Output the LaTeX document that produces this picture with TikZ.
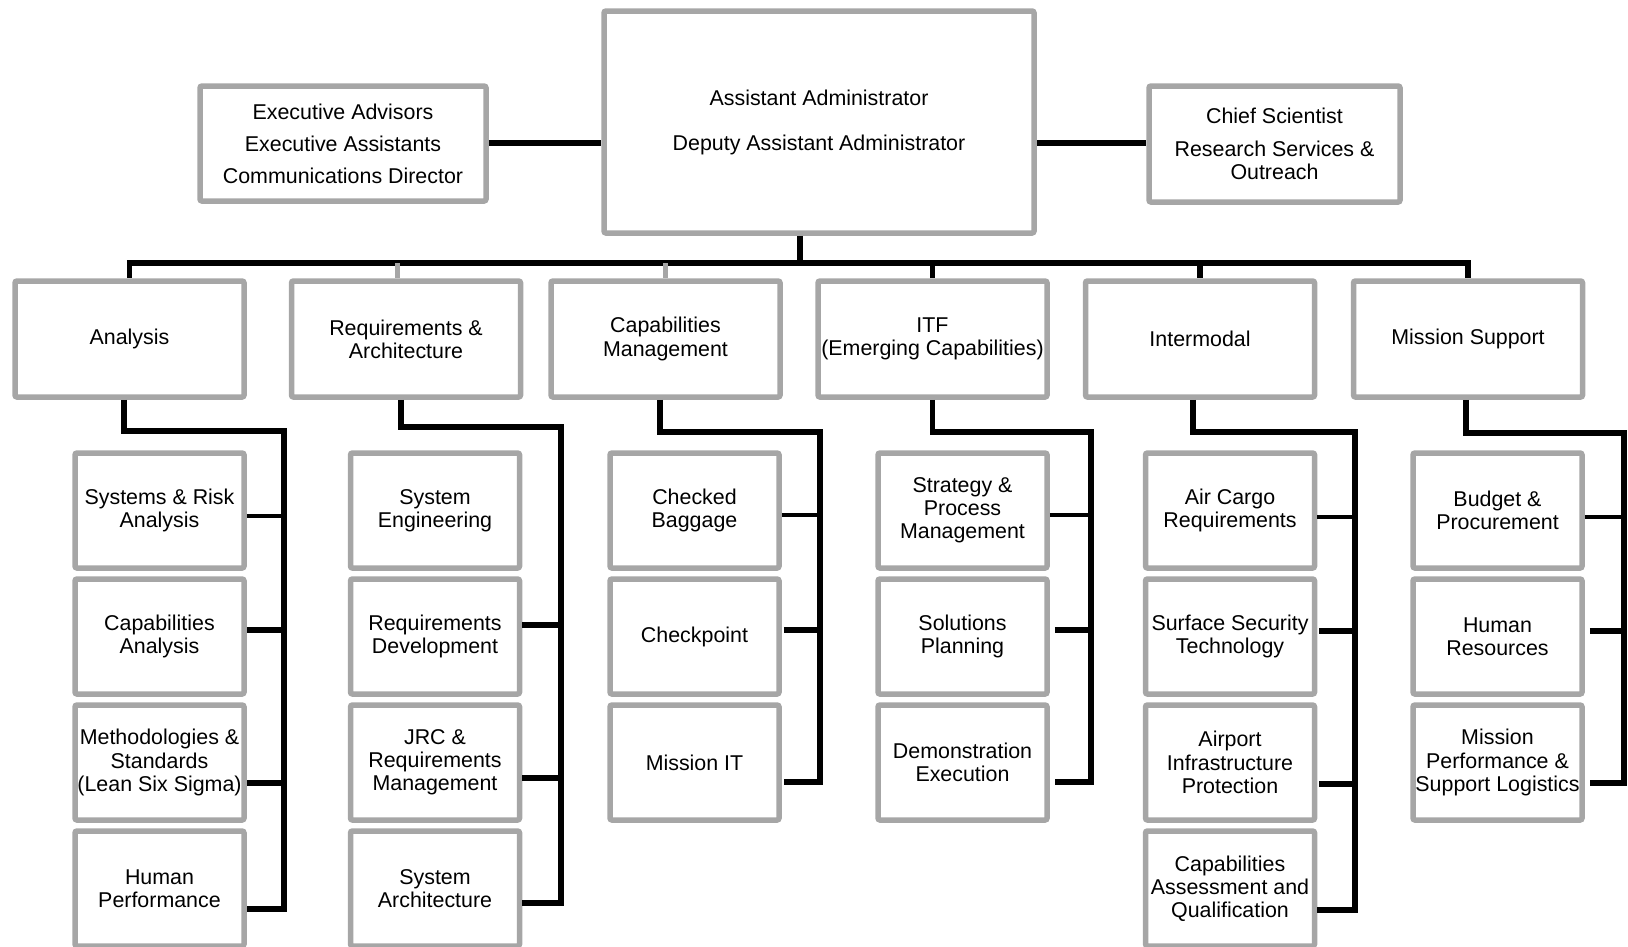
\documentclass[tikz,border=0pt]{standalone}
\usepackage{fontspec}
\setmainfont{Liberation Sans}
\usetikzlibrary{calc}
\definecolor{boxgray}{HTML}{A6A6A6}
\tikzset{
  box/.style={draw=boxgray, line width=5.5pt, rounded corners=2pt, fill=white, inner sep=0pt, align=center},
  subbox/.style={box, minimum width=169pt, minimum height=115pt},
  lvtwo/.style={box, minimum width=229pt, minimum height=116pt},
  link/.style={line width=5.5pt, black, line join=miter},
  thinlink/.style={line width=4pt, black},
  graylink/.style={line width=5pt, boxgray},
}
\begin{document}
\begin{tikzpicture}[x=1pt, y=-1pt, font=\fontsize{21.4}{23.2}\selectfont]
\useasboundingbox (0,0) rectangle (1628,946);

% top level
\node[box, minimum width=430pt, minimum height=222pt] (top) at (819,122) {Assistant Administrator\\[21.8pt]Deputy Assistant Administrator};
\node[box, minimum width=286pt, minimum height=115pt] (tl) at (343,143.5) {Executive Advisors\\[8.8pt]Executive Assistants\\[8.8pt]Communications Director};
\node[box, minimum width=251pt, minimum height=116pt] (tr) at (1274.5,144) {Chief Scientist\\[9.5pt]Research Services \&\\Outreach};

% level two
\node[lvtwo] (an) at (129.5,339) {Analysis};
\node[lvtwo] (ra) at (406,339) {Requirements \&\\Architecture};
\node[lvtwo] (cm) at (665.5,339) {Capabilities\\Management};
\node[lvtwo] (itf) at (932.5,339) {ITF\\(Emerging Capabilities)};
\node[lvtwo] (im) at (1200,339) {Intermodal};
\node[lvtwo] (ms) at (1468,339) {Mission Support};

% level three: Analysis
\node[subbox] (an1) at (159.5,510.5) {Systems \& Risk\\Analysis};
\node[subbox] (an2) at (159.5,636.5) {Capabilities\\Analysis};
\node[subbox] (an3) at (159.5,762.5) {Methodologies \&\\Standards\\(Lean Six Sigma)};
\node[subbox] (an4) at (159.5,888.5) {Human\\Performance};
% Requirements
\node[subbox] (ra1) at (435,510.5) {System\\Engineering};
\node[subbox] (ra2) at (435,636.5) {Requirements\\Development};
\node[subbox] (ra3) at (435,762.5) {JRC \&\\Requirements\\Management};
\node[subbox] (ra4) at (435,888.5) {System\\Architecture};
% Capabilities Management
\node[subbox] (cm1) at (694.5,510.5) {Checked\\Baggage};
\node[subbox] (cm2) at (694.5,636.5) {Checkpoint};
\node[subbox] (cm3) at (694.5,762.5) {Mission IT};
% ITF
\node[subbox] (itf1) at (962.5,510.5) {Strategy \&\\Process\\Management};
\node[subbox] (itf2) at (962.5,636.5) {Solutions\\Planning};
\node[subbox] (itf3) at (962.5,762.5) {Demonstration\\Execution};
% Intermodal
\node[subbox] (im1) at (1230,510.5) {Air Cargo\\Requirements};
\node[subbox] (im2) at (1230,636.5) {Surface Security\\Technology};
\node[subbox] (im3) at (1230,762.5) {Airport\\Infrastructure\\Protection};
\node[subbox] (im4) at (1230,888.5) {Capabilities\\Assessment and\\Qualification};
% Mission Support
\node[subbox] (ms1) at (1497.5,510.5) {Budget \&\\Procurement};
\node[subbox] (ms2) at (1497.5,636.5) {Human\\Resources};
\node[subbox] (ms3) at (1497.5,762.5) {Mission\\Performance \&\\Support Logistics};

% top connectors
\draw[line width=6pt] (tl.east |- 0,143) -- (top.west |- 0,143);
\draw[line width=6pt] (top.east |- 0,143) -- (tr.west |- 0,143);

% bus
\coordinate (busl) at (an.north |- 0,263);
\coordinate (busr) at (ms.north |- 0,263);
\draw[line width=6pt] ([xshift=-19pt]top.south) -- ([xshift=-19pt]top.south |- busl);
\draw[line width=6pt] ([xshift=-2.75pt]busl) -- ([xshift=2.75pt]busr);
\draw[link] (busl) -- (an.north);
\draw[graylink] ([xshift=-9pt]ra.north |- busl) -- ([xshift=-9pt]ra.north);
\draw[graylink] (cm.north |- busl) -- (cm.north);
\draw[link] (itf.north |- busl) -- (itf.north);
\draw[link] (im.north |- busl) -- (im.north);
\draw[link] (busr) -- (ms.north);

% brackets
\coordinate (anV) at (284,431);
\coordinate (raV) at (561,427);
\coordinate (cmV) at (820,432);
\coordinate (itfV) at (1091,432);
\coordinate (imV) at (1355,432);
\coordinate (msV) at (1624,433);

\draw[link] ([xshift=-5.5pt]an.south) |- (anV) -- (anV |- 0,909) -- (an4.east |- 0,909);
\draw[thinlink] (an1.east |- 0,516) -- (anV |- 0,516);
\draw[link] (an2.east |- 0,630) -- (anV |- 0,630);
\draw[link] (an3.east |- 0,783) -- (anV |- 0,783);

\draw[link] ([xshift=-5pt]ra.south) |- (raV) -- (raV |- 0,903) -- (ra4.east |- 0,903);
\draw[link] (ra2.east |- 0,625) -- (raV |- 0,625);
\draw[link] (ra3.east |- 0,778) -- (raV |- 0,778);

\draw[link] ([xshift=-5.5pt]cm.south) |- (cmV) -- (cmV |- 0,782) -- ([xshift=2pt]cm3.east |- 0,782);
\draw[thinlink] (cm1.east |- 0,515) -- (cmV |- 0,515);
\draw[link, shorten <=2pt] (cm2.east |- 0,630) -- (cmV |- 0,630);

\draw[link] (itf.south) |- (itfV) -- (itfV |- 0,782) -- ([xshift=5pt]itf3.east |- 0,782);
\draw[thinlink] (itf1.east |- 0,515) -- (itfV |- 0,515);
\draw[link, shorten <=5pt] (itf2.east |- 0,630) -- (itfV |- 0,630);

\draw[link] ([xshift=-7pt]im.south) |- (imV) -- (imV |- 0,910) -- (im4.east |- 0,910);
\draw[thinlink] (im1.east |- 0,517) -- (imV |- 0,517);
\draw[link, shorten <=2pt] (im2.east |- 0,631) -- (imV |- 0,631);
\draw[link, shorten <=2pt] (im3.east |- 0,784) -- (imV |- 0,784);

\draw[link] ([xshift=-2pt]ms.south) |- (msV) -- (msV |- 0,783) -- ([xshift=5pt]ms3.east |- 0,783);
\draw[thinlink] (ms1.east |- 0,517) -- (msV |- 0,517);
\draw[link, shorten <=5pt] (ms2.east |- 0,631) -- (msV |- 0,631);
\end{tikzpicture}
\end{document}
